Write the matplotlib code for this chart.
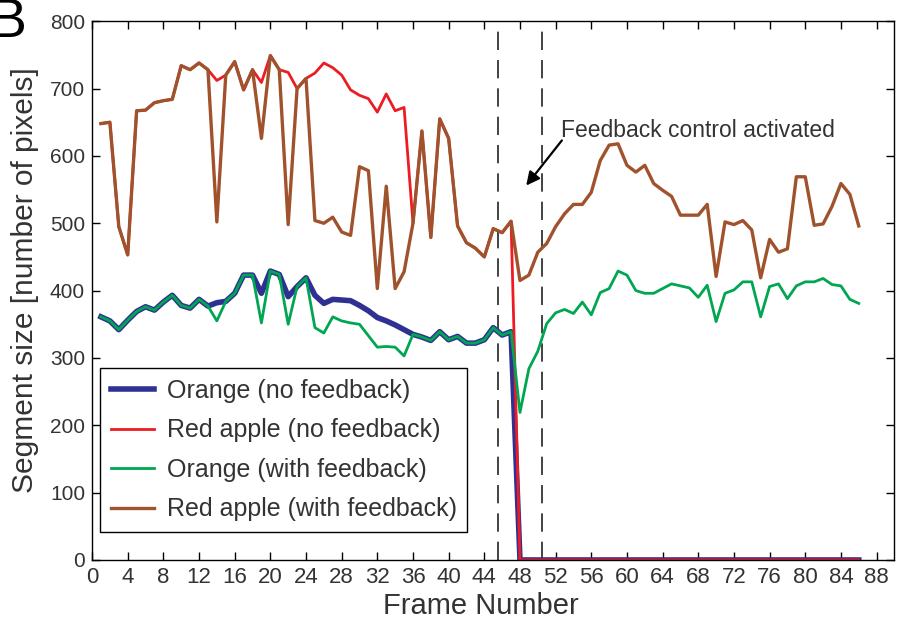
import numpy as np
import matplotlib
matplotlib.use('Agg')
import matplotlib.pyplot as plt

plt.rcParams['font.family'] = ['Liberation Sans', 'DejaVu Sans']

# frame numbers 1..86
frames = np.arange(1, 87)

# Orange, no feedback (blue)
orange_nofb = [361, 355, 342, 356, 369, 376, 371, 383, 393, 378, 374, 387, 377,
               382, 384, 396, 423, 423, 396, 429, 424, 391, 406, 419,
               393, 381, 387, 386, 385, 378, 370, 360, 355, 349, 342, 335, 331,
               326, 339, 327, 332, 322, 322, 327, 345, 334, 339] + [0] * 39

# Red apple, no feedback (red)
apple_nofb = [648, 650, 495, 453, 667, 668, 679, 682, 684, 734, 728, 738, 728,
              712, 720, 740, 698, 728, 709, 749, 728, 724, 700, 715,
              723, 738, 731, 720, 698, 690, 685, 665, 692, 667, 672,
              500, 637, 479, 655, 626, 496, 471, 463, 450, 492, 486, 503] + [0] * 39

# Orange, with feedback (green)
orange_fb = [361, 355, 342, 356, 369, 376, 371, 383, 393, 378, 374, 387, 377,
             355, 384, 396, 423, 423, 352, 429, 424, 350, 406, 419,
             345, 337, 361, 355, 352, 350, 333, 316, 317, 316, 303, 335, 331,
             326, 339, 327, 332, 322, 322, 327, 345, 334, 339,
             219, 284, 310, 351, 367, 372, 366, 383, 364, 397, 403, 429, 423,
             400, 396, 396, 403, 410, 407, 404, 390, 408, 354, 396, 401, 413,
             413, 361, 406, 410, 388, 407, 413, 413, 418, 409, 407, 387, 381]

# Red apple, with feedback (brown)
apple_fb = [648, 650, 495, 453, 667, 668, 679, 682, 684, 734, 728, 738, 728,
            502, 720, 740, 698, 728, 626, 749, 728, 498, 700, 715,
            504, 500, 509, 487, 482, 584, 578, 403, 555, 403, 428,
            500, 637, 479, 655, 626, 496, 471, 463, 450, 492, 486, 503,
            415, 423, 457, 470, 495, 514, 528, 528, 546, 593, 616, 618, 586,
            576, 586, 559, 549, 540, 512, 512, 512, 528, 421, 502, 498, 504,
            490, 419, 476, 457, 462, 569, 569, 497, 499, 525, 559, 543, 496]

feedback_lines = [45.5, 50.5]

txt = '#333333'
fig = plt.figure(figsize=(8.98, 6.24), dpi=100)
ax = fig.add_axes([0.1025, 0.1026, 0.8935, 0.8634])

ax.plot(frames, orange_nofb, color='#2E3192', lw=4.0, label='Orange (no feedback)')
ax.plot(frames, apple_nofb, color='#ED1C24', lw=2.0, label='Red apple (no feedback)')
ax.plot(frames, orange_fb, color='#00A651', lw=2.0, label='Orange (with feedback)')
ax.plot(frames, apple_fb, color='#A0522D', lw=2.4, label='Red apple (with feedback)')

for xv in feedback_lines:
    ax.axvline(xv, color='#222222', lw=1.2, dashes=(11, 6), zorder=1)

# arrow and its label
ax.annotate('', xy=(48.7, 556), xytext=(52.7, 623),
            arrowprops=dict(arrowstyle='-|>', color='black', lw=1.6,
                            mutation_scale=20, shrinkA=0, shrinkB=0))
ax.text(52.6, 638, 'Feedback control activated', fontsize=16.5, color=txt,
        va='center', ha='left')

ax.set_xlim(0, 90)
ax.set_ylim(0, 800)
ax.set_xticks(np.arange(0, 89, 4))
ax.set_yticks(np.arange(0, 801, 100))
ax.tick_params(direction='in', top=True, right=True, length=6, width=1,
               colors='black', labelcolor=txt, pad=5)
for lab in ax.get_xticklabels():
    lab.set_fontsize(16)
for lab in ax.get_yticklabels():
    lab.set_fontsize(15)
for sp in ax.spines.values():
    sp.set_linewidth(1.0)

ax.set_xlabel('Frame Number', fontsize=21, color=txt)
ax.set_ylabel('Segment size [number of pixels]', fontsize=21.5, color=txt)
ax.xaxis.set_label_coords(0.485, -0.06)
ax.yaxis.set_label_coords(-0.066, 0.52)

leg = ax.legend(loc='lower left', bbox_to_anchor=(0.01, 0.052), fontsize=18,
                fancybox=False, edgecolor='black', framealpha=1,
                handlelength=1.75, handletextpad=0.5, labelspacing=0.62,
                borderpad=0.42, borderaxespad=0)
leg.get_frame().set_linewidth(1.0)
for t in leg.get_texts():
    t.set_color(txt)

fig.text(-0.012, 1.005, 'B', fontsize=40, color='black', ha='left', va='top')

fig.savefig('out.png', dpi=100)
